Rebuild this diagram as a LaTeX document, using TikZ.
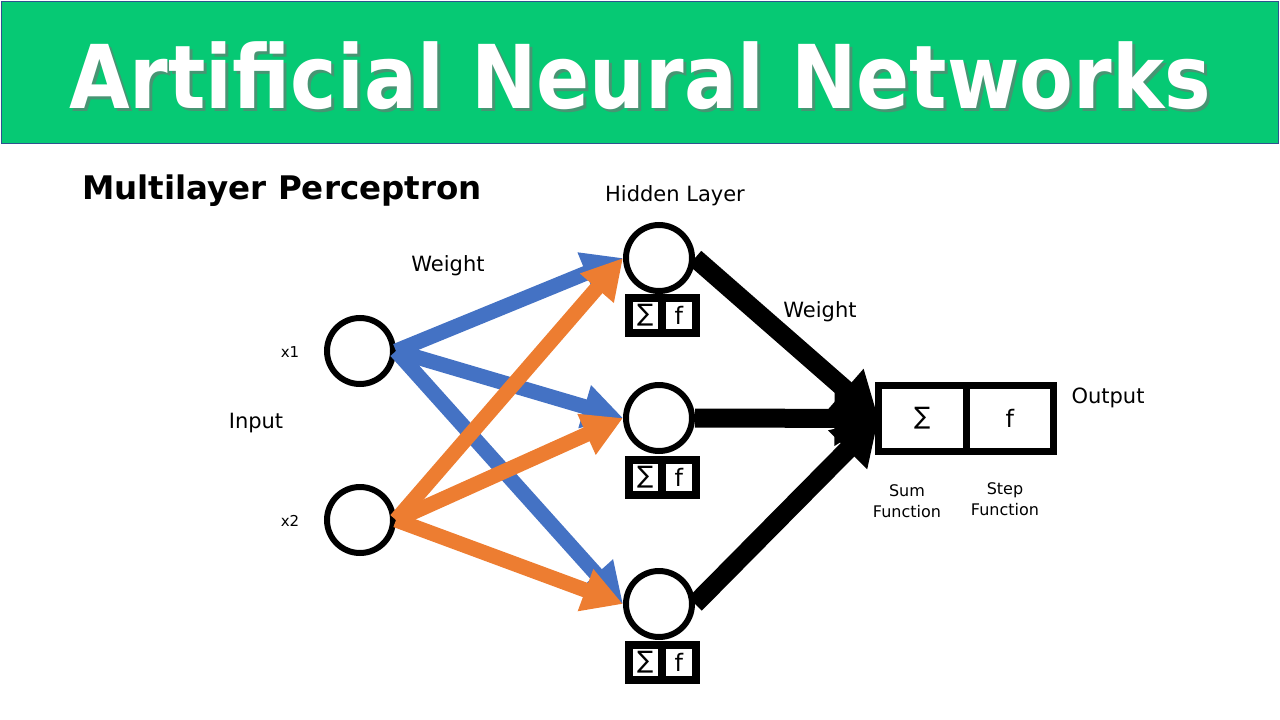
\documentclass[tikz,border=0pt]{standalone}
\usepackage{fontspec}
\setmainfont{DejaVu Sans}
\usetikzlibrary{arrows.meta,positioning}
\definecolor{vert}{HTML}{06C974}
\definecolor{bordure}{HTML}{2F528F}
\definecolor{bleu}{HTML}{4472C4}
\definecolor{orangec}{HTML}{ED7D31}
\tikzset{
  neurone/.style={circle,draw,fill=white,line width=6pt,minimum size=66pt,inner sep=0pt},
  cellule/.style={draw,line width=8pt,outer sep=0pt,inner sep=0pt,minimum width=33.5pt,
                  minimum height=35pt,font=\fontsize{24}{26}\selectfont},
  grande/.style={cellule,line width=7pt,minimum width=87.5pt,minimum height=66pt,font=\fontsize{24}{26}\selectfont},
  titre/.style={font=\fontsize{88}{100}\selectfont\bfseries,anchor=base,inner sep=0pt},
  etiquette/.style={font=\fontsize{21}{25}\selectfont,inner sep=0pt},
  petite/.style={font=\fontsize{16}{21}\selectfont,inner sep=0pt,align=center},
  fleche/.style={-{Triangle[length=40pt,width=42pt]},line width=15pt},
  flechenoire/.style={-{Triangle[length=44pt,width=52pt]},line width=19pt},
}
\begin{document}
\begin{tikzpicture}[x=1pt,y=-1pt]
  \useasboundingbox (0,0) rectangle (1280,720);
  % bandeau du titre
  \node[draw=bordure,fill=vert,line width=1.5pt,minimum width=1277pt,minimum height=142pt,
        anchor=north west,inner sep=0pt] (bandeau) at (0.75,0.75) {};
  \node[titre,text=black!55,opacity=.6] (ombre) at (643,111) {\scalebox{.89}[1]{Artificial Neural Networks}};
  \node[titre,text=white] (titre) at (640,108) {\scalebox{.89}[1]{Artificial Neural Networks}};
  \node[font=\fontsize{32.5}{36}\selectfont\bfseries,anchor=base west,inner sep=0pt] (mlp) at (82,199) {Multilayer Perceptron};

  % neurones
  \node[neurone] (x1) at (360,351) {};
  \node[neurone] (x2) at (360,520) {};
  \node[neurone] (h1) at (659,258) {};
  \node[neurone] (h2) at (659,418) {};
  \node[neurone] (h3) at (659,604) {};

  % sommes et fonctions
  \node[cellule] (s1) at (645.25,315.5) {∑};
  \node[cellule,right=0pt of s1] (f1) {f};
  \node[cellule] (s2) at (645.25,477) {∑};
  \node[cellule,right=0pt of s2] (f2) {f};
  \node[cellule] (s3) at (645.25,662.5) {∑};
  \node[cellule,right=0pt of s3] (f3) {f};
  \node[grande] (somme) at (922.25,418.5) {∑};
  \node[grande,right=0pt of somme] (step) {f};

  % poids
  \draw[fleche,bleu] (x1.east) -- (h1.west);
  \draw[fleche,bleu] (x1.east) -- (h2.west);
  \draw[fleche,bleu] (x1.east) -- (h3.west);
  \draw[fleche,orangec] (x2.east) -- (h1.west);
  \draw[fleche,orangec] (x2.east) -- (h2.west);
  \draw[fleche,orangec] (x2.east) -- (h3.west);
  \draw[flechenoire] (h1.east) -- (somme.west);
  \draw[flechenoire] (h2.east) -- (somme.west);
  \draw[flechenoire] (h3.east) -- (somme.west);

  % textes
  \node[etiquette] (hidden) at (675,196) {Hidden Layer};
  \node[etiquette] (w1) at (448,266) {Weight};
  \node[etiquette] (w2) at (820,312) {Weight};
  \node[etiquette] (input) at (256,423) {Input};
  \node[etiquette] (output) at (1108,398) {Output};
  \node[font=\fontsize{15}{18}\selectfont,inner sep=0pt] (l1) at (290,352) {x1};
  \node[font=\fontsize{15}{18}\selectfont,inner sep=0pt] (l2) at (290,521) {x2};
  \node[petite] (sum) at (907,501) {Sum\\Function};
  \node[petite] (stepf) at (1005,499) {Step\\Function};
\end{tikzpicture}
\end{document}
